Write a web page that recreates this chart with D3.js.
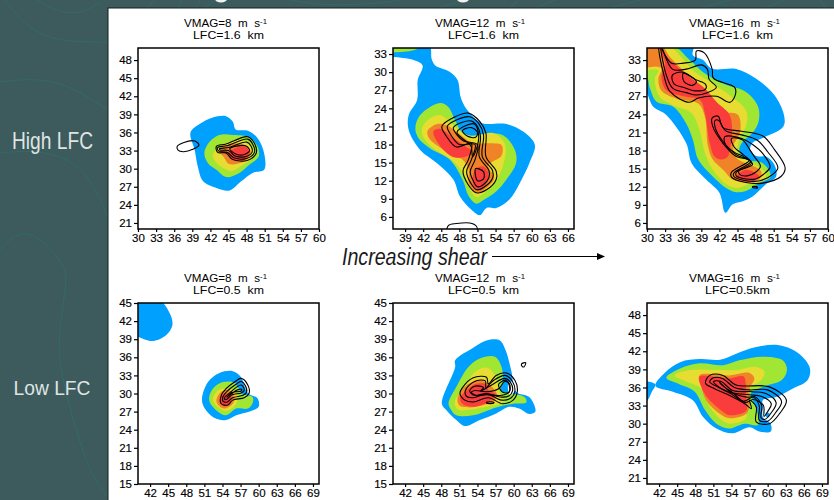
<!DOCTYPE html>
<html>
<head>
<meta charset="utf-8">
<script src="https://cdn.jsdelivr.net/npm/d3@7"></script>
<style>
html, body { margin: 0; padding: 0; background: #3d5a5c; overflow: hidden; }
svg { display: block; font-family: "Liberation Sans", Arial, sans-serif; }
.tick text { font-size: 11.5px; fill: #000; stroke: #000; stroke-width: 0.15px; font-family: "Liberation Sans", Arial, sans-serif; }
</style>
</head>
<body>
<svg id="chart" width="834" height="500"></svg>
<script>
// tick labels
var ticksX3060 = [30, 33, 36, 39, 42, 45, 48, 51, 54, 57, 60];
var ticksX3966 = [39, 42, 45, 48, 51, 54, 57, 60, 63, 66];
var ticksX4269 = [42, 45, 48, 51, 54, 57, 60, 63, 66, 69];
var ticksY2148 = [21, 24, 27, 30, 33, 36, 39, 42, 45, 48];
var ticksY633 = [6, 9, 12, 15, 18, 21, 24, 27, 30, 33];
var ticksY1545 = [15, 18, 21, 24, 27, 30, 33, 36, 39, 42, 45];

// colour levels, low to high
var levelColors = ["#00a0ff", "#a0e632", "#e6dc32", "#f08228", "#fa3c3c"];

// VMAG=8 LFC=1.6
var a1Blue = [[38.7,36],[40.2,37.4],[42.4,38.5],[44.6,38.7],[45.7,37.8],[46.2,36.5],[48.2,36.3],[49.8,35.1],[50.9,32.6],[50.9,29.8],[49,29.3],[47.1,27.9],[45.2,26.4],[43,26.8],[40.8,27.9],[39.9,30.4],[39.4,33.1]];
var a1Green = [[41,32.6],[41.9,34.5],[43.5,35.6],[45.7,35.6],[48.2,35.3],[49.8,33.7],[50,32],[48.4,30.6],[46.8,29.3],[44.6,28.6],[43,29.8],[41.6,30.9]];
var a1Yellow = [[42.4,32.2],[43.5,33.7],[45.7,34.6],[48,34.5],[49.2,33],[48.5,31.4],[47,30.4],[45.5,29.6],[44,30.2],[43,31]];
var a1Orange = [[43.5,33],[45,34],[47.5,34],[48.7,32.8],[48,31.5],[46.5,30.8],[45,30.8],[44.3,31.8]];
var a1Red = [[45.2,32.9],[47.6,33.7],[48.5,32.6],[47.9,31.6],[45.7,31.5],[44.9,32.3]];
var a1Line1 = [[43,33.7],[44.6,34.1],[48.2,35.3],[49.3,34.2],[49.6,32.6],[48.2,31.4],[45.7,31.5],[44.6,32.6],[43.2,32.7]];
var a1Line2 = [[43.2,33.5],[44.7,33.8],[48.2,34.9],[49,34.1],[49.3,32.7],[48,31.7],[45.9,31.8],[44.8,32.7],[43.4,32.9]];
var a1Line3 = [[43.5,33.3],[45,33.5],[48,34.4],[48.7,33.8],[48.9,32.7],[47.8,32],[46.1,32.1],[45,33],[43.6,33.1]];
var a1Line4 = [[45.2,33.3],[47.8,33.8],[48.5,33],[47.5,32.3],[46.3,32.4]];
var a1Line5 = [[36.5,33.7],[37.5,34.3],[39.4,34.6],[40.1,33.9],[39.1,33.2],[37.5,32.8],[36.6,33.1]];

// VMAG=12 LFC=1.6
var a2Blue = [[43,34.4],[43.4,32.2],[44,31.1],[46.5,30],[47.7,28.7],[48.2,25.9],[48.9,24.3],[50.3,22.6],[51.9,21.5],[55.8,21.4],[58.5,20.2],[60.5,18],[59.6,14.9],[58,11.6],[56.3,8.9],[54.1,7.5],[52.5,7.5],[51.4,6.3],[50,7.2],[48.1,9.4],[47,12.2],[44.3,14.9],[41.5,17.1],[39.6,20.4],[39.6,22.9],[41,25.4],[41.1,28.7],[41.9,31.1],[40.4,32],[37,32.5],[36.5,32.5],[36.5,34.4]];
var a2Green = [[40.7,20.7],[41.5,22.9],[44.8,24.9],[46.2,24.2],[47.3,22],[48.4,20.1],[49.5,19.5],[52.5,19.8],[55.3,19.5],[57.2,17.1],[57.4,14.9],[55.8,12.2],[54.1,10.2],[52,8.8],[50.8,8.2],[49.5,9.5],[48.6,12],[46.4,15.5],[43.1,17.4],[41.2,19.1]];
var a2GreenTop = [[36.5,34.4],[41.5,34.4],[40.7,33.7],[37.7,33.3],[36.5,33.4]];
var a2Yellow = [[41.8,20.7],[42.9,22.2],[44.8,22.9],[46.7,21.5],[48.6,19.9],[50.3,19.4],[53.6,19.9],[55.5,18.2],[55.5,15.5],[54.1,11.9],[52.5,10.3],[50.8,9.3],[49.8,10.5],[48.9,12.7],[47,15.2],[43.7,17.4],[42.1,19.1]];
var a2Orange = [[42.7,20.2],[44.3,21.4],[45.9,21.2],[47.7,20],[50.3,18.2],[53,18.2],[55,17.9],[55,16.2],[52.8,14.5],[53.8,12.5],[52.5,10.8],[50.8,10],[49.6,11.5],[49.5,14],[48.5,15.5],[46.5,16.5],[44.5,17.7],[43,19]];
var a2Red = [[43.7,20.2],[44.8,20.6],[47,19.1],[49.5,17.4],[50,17.1],[49.7,16.3],[47.5,15.8],[45.9,16.6],[44.3,18.5]];
var a2RedLow = [[50.6,13.8],[51.9,14.4],[52.8,13.3],[52.5,11.6],[51.4,10.5],[50.3,11.3]];
var a2Line1 = [[45.1,21],[47.3,22.6],[49.5,23.2],[51.4,21.8],[52.4,19.9],[52.4,16],[54.1,13.6],[54.1,12.2],[52.5,10.5],[50.8,10],[49.5,11.3],[48.6,13.6],[49.5,15.5],[50,18.2],[47.5,17.6],[45.9,19.3]];
var a2Line2 = [[46,21],[47.8,22.2],[49.7,22.6],[51.2,21.5],[52,19.6],[51.8,16],[53.5,13.7],[53.5,12.4],[52.2,11],[50.9,10.5],[49.9,11.6],[49.2,13.5],[50,15.5],[50.6,18],[48,18],[46.8,19.3]];
var a2Line3 = [[47,20.8],[48.5,21.7],[50,21.9],[51,21],[51.5,19.3],[51.3,16],[52.9,13.7],[52.9,12.5],[51.9,11.3],[51,11],[50.3,12],[49.8,13.5],[50.6,15.5],[51,18],[48.7,18.6],[47.6,19.6]];
var a2Line4 = [[48.5,20.3],[50,20.8],[51,20],[50.7,19.2],[49.3,19.4]];
var a2Line5 = [[50.7,14],[52,13.5],[52,12.3],[51,12]];
var a2Line6 = [[46.2,4.6],[47.5,4.9],[49.7,5],[50.8,4.5],[50.9,3.6],[46,3.6]];
var a2Line7 = [[47.6,20],[49.2,21.2],[50.5,21.4],[51.2,19.5],[50.9,17.5],[50.2,16],[49.9,17.8],[48.5,19]];

// VMAG=16 LFC=1.6
var a3Blue = [[37.6,35.4],[37.6,33.8],[39.3,33],[40.7,31.6],[44.8,31.5],[48.1,29.9],[51.1,27.2],[52.7,23.9],[52.6,22],[49.2,20.1],[47.5,19.3],[47.1,18.1],[48.1,17.1],[49.7,17],[51.1,15.7],[51.4,13.7],[49.7,12.4],[47.5,10.4],[45.9,9.6],[44.2,9.1],[43,7.7],[42,11],[39.8,13.2],[37.4,15.9],[36.5,19.2],[33.2,23.9],[31,25.3],[29.9,27.5],[29.4,27.5],[29.4,35.4]];
var a3Green = [[34.3,35.4],[37.1,33],[39.3,31],[42.6,29.1],[46.4,27.7],[48.4,25.3],[48.5,22.8],[47.5,20.9],[45.9,19.5],[45.3,18.1],[46.4,16.5],[49.2,15.9],[50.5,13.7],[48.6,12.6],[46.4,11.3],[44.8,11.1],[43.1,11.8],[40.9,13.7],[38.5,16.5],[37.6,19.8],[36.5,22.5],[34.3,25.3],[31.6,26.1],[30.5,28.3],[30,30.2],[29.4,30.2],[29.4,35.4]];
var a3Yellow = [[33.5,35.4],[35.7,33.5],[37.6,31.3],[40.9,29.1],[44,26.9],[46.4,24.7],[46.5,22.3],[45.3,19.8],[45.1,17.6],[47.5,15.9],[49.7,14.3],[49.5,13.2],[47,12.4],[44.8,11.8],[42.9,12.6],[40.9,14.8],[39.6,17.6],[38.7,21.4],[37.4,24.2],[34.3,25.5],[32.1,26.9],[31.3,29.9],[31.9,31.3],[30,31.3],[29.4,31.3],[29.4,35.4]];
var a3Orange = [[32.4,35.4],[33.8,33.5],[36.3,31],[40.4,27.2],[42.6,24.5],[45.1,23.9],[45.4,20.9],[44.3,18.7],[44.8,16.8],[48.9,14.6],[48.6,13.2],[46.4,12.7],[44.2,13.2],[42.6,14.8],[40.9,16.5],[40.1,18.7],[39.6,23.6],[38.5,25.8],[34.9,26.6],[32.4,27.9],[31.9,29.9],[32.4,31.6],[31.6,31.9],[29.4,31.9],[29.4,35.4]];
var a3Red = [[31.9,35.4],[33.8,33],[37.1,30.2],[39.6,28.3],[41.5,26.1],[43.7,23.9],[44.1,20.9],[43.7,18.1],[43.4,17],[42.3,16.5],[41.2,17],[40.4,19.2],[39.6,24.2],[38.8,26.4],[36.5,26.9],[33.2,28],[32.4,30.2],[33,32.4]];
var a3RedLow = [[46.4,14.8],[48.6,13.7],[47,12.8],[44.8,13.6]];
var a3Line1 = [[32,35.4],[34,32.5],[36,32.5],[38,33],[38.2,34.5],[39.5,34.2],[40.8,31.5],[41,30],[44.5,28.5],[44.7,27.5],[43.8,26],[41.5,27],[38.5,26.7],[37,26],[33.8,27.8],[32.8,30.5]];
var a3Line2 = [[32.3,35.4],[34.2,31.5],[36.5,31.5],[39,32.2],[40,31.5],[40.3,29.8],[41.5,28.5],[40,27.6],[38.2,27.2],[36.5,27.6],[34.3,28.3],[33.2,30.5]];
var a3Line3 = [[35.9,31],[38,29.8],[39.7,29],[39.7,28.2],[38,27.9],[36,28.5],[34.5,29],[34.2,30.5]];
var a3Line4 = [[36,30.8],[38.2,29.4],[37.5,28.8],[36.1,29.5]];
var a3Line5 = [[40.8,23.4],[41.8,23.7],[42.6,21.8],[45.7,21.2],[49.2,20.4],[51.1,18.2],[52.9,15.1],[52.2,13.7],[49.2,12.6],[46.4,12.7],[44,13.6],[44,14.4],[47,16.4],[44.8,17],[42.6,19.2],[40.9,22]];
var a3Line6 = [[41.3,23],[41.9,23],[43,21.3],[45.7,20.6],[48.3,19.7],[50,17.8],[51.7,15.2],[50.9,14.1],[48.7,13],[46.4,13],[44.4,13.7],[44.4,14.3],[47.2,16.2],[44.8,17.3],[42.6,19.5],[41.3,21.8]];
var a3Line7 = [[42.9,20.3],[45.7,20],[47.5,19],[49.2,17.5],[50.4,15.3],[49.6,14.3],[48,13.3],[46.4,13.3],[44.8,13.8],[44.8,14.4],[47.3,15.9],[46,17],[44.5,17.7],[43,19]];
var a3Line8 = [[44,20],[45.8,19.8],[47,18.2],[47.8,17],[48.8,15.4],[48,14.4],[46.6,13.8],[45.4,14],[45.2,14.6],[47.5,15.7],[46,17.3],[44.5,18.5]];
var a3Line9 = [[47.5,12.05],[48.3,11.95],[48.3,11.8],[47.5,11.9]];

// VMAG=8 LFC=0.5
var b1BlueTop = [[39.5,45.4],[43.6,45.4],[45.3,43.2],[45.7,41.3],[44.7,39.7],[42.5,38.7],[40.3,39.3],[39.5,39.7]];
var b1Blue = [[50.6,28.9],[51.6,31.9],[53.5,33.4],[55.7,33.7],[57,32.8],[58.2,30.1],[59.8,29.2],[60,27.8],[58.5,27],[56.3,26.4],[54.6,25.6],[53,25.8],[51.3,27.2]];
var b1Green = [[51.8,28.9],[52.4,30.8],[54.1,31.9],[56,31.8],[56.6,31],[57.2,30],[59,29.4],[59,28.4],[58.2,27.5],[56.3,27.5],[54.6,26.4],[53,27.2]];
var b1Yellow = [[52.4,28.9],[53.2,30.5],[54.6,30.8],[56.3,30.3],[56.3,28.3],[54.6,27.1],[53.2,27.8]];
var b1Orange = [[53,28.9],[53.8,30.3],[55.2,30.5],[56,29.4],[55.7,28.3],[54.3,27.5],[53.3,28.1]];
var b1Red = [[53.5,28.9],[54.3,30],[55.4,29.7],[55.4,28.6],[54.3,27.9]];
var b1Line1 = [[53.8,29.7],[54.6,30.8],[56,31.9],[57.1,32.5],[58.2,31.4],[58.4,30],[57.6,29.3],[55.7,28.9],[54.9,28.1],[53.8,28.3]];
var b1Line2 = [[54.1,29.5],[54.9,30.5],[56.2,31.5],[57.1,32],[57.8,31.3],[58,30.2],[57.4,29.7],[55.7,29.3],[54.8,28.6],[54.1,28.7]];
var b1Line3 = [[54.4,29.4],[55.2,30.1],[56.4,31.1],[57.1,31.4],[57.5,31],[57.6,30.5],[57.1,30.1],[55.6,29.8],[54.8,29.1],[54.4,29]];
var b1Line4 = [[54.7,29.4],[55.4,29.9],[56.5,30.6],[57.2,30.7],[57.1,30.4],[55.6,30.2],[54.9,29.6]];

// VMAG=12 LFC=0.5
var b2Blue = [[48.1,28.3],[50.3,34.4],[50.3,35.5],[53.3,37.6],[55.5,38.8],[57.7,38.8],[58.7,37.1],[59.6,33.8],[60.4,30.3],[62.6,29.4],[63.6,27],[62.6,26.6],[60.9,27.5],[59.3,27.8],[57.1,26.7],[54.4,25.6],[51.9,24.6],[50.5,25.6],[48.9,27.2]];
var b2Green = [[49.2,28.3],[50.5,31.1],[52.5,34.4],[54.4,35.8],[56.9,36.1],[58,34.4],[58.2,32],[57.8,30.5],[59.6,30],[61.8,29.4],[62.1,28.5],[59.9,28.3],[57.1,27.7],[53.3,26.4],[50.5,26.4],[49.7,27.2]];
var b2Yellow = [[50.2,28.6],[51.7,30.8],[53.6,33.6],[55.5,34.3],[56.9,33],[57.7,30],[58.2,28.6],[55.5,27.8],[52.7,27.3],[50.8,27.3]];
var b2Orange = [[50.7,29.2],[52.2,31.4],[54.4,32.2],[55.8,31.6],[57.2,30],[56.9,28.9],[55,28.1],[52.7,27.7],[51,28]];
var b2Red = [[51.1,29.2],[52.5,30.8],[53.8,31.6],[55.5,31.5],[55.8,30.6],[57,29.9],[55.8,28.6],[53.3,27.8],[51.6,28.2]];
var b2Hole = [[59.1,31.6],[59.9,32],[60.5,30.9],[59.4,29.7]];
var b2Line1 = [[51.4,30.8],[53.3,32.6],[55.5,32.7],[55.8,31.6],[57.1,33],[58.8,33.4],[60.2,32.2],[60.6,30.3],[59.9,28.9],[58.2,28.3],[55.8,29.3],[53.3,28.6],[51.9,28.9],[51.1,30]];
var b2Line2 = [[52,30.5],[53.5,32],[55.3,32.1],[55.4,31],[56.7,32.2],[58.6,33],[59.8,32],[60.2,30.4],[59.6,29.3],[58,28.9],[55.6,29.9],[53.3,29.3],[52.2,29.5]];
var b2Line3 = [[52.7,30.4],[53.5,31.2],[55,31],[54.5,30.4],[56.5,31.5],[58.5,32.5],[59.5,31.8],[59.8,30.4],[59.2,29.6],[58,29.4],[55.5,30],[53.5,29.7]];
var b2Line4 = [[53,30.2],[53.6,30.5],[55.5,30.3],[57.5,30.8],[58.5,32],[59.3,31.6],[59.3,30.3],[58,29.7],[55.5,29.8],[53.7,29.7]];
var b2Line5 = [[61.3,34.9],[62,35.1],[61.7,34.4],[61.4,34.5]];
var b2Line6 = [[55.5,28.55],[56.7,28.55],[56.7,28.4],[55.5,28.4]];
var b2Line7 = [[57.5,31.5],[58.7,32.2],[59.3,31.2],[59.2,30.2],[58.2,30.2]];

// VMAG=16 LFC=0.5
var b3BlueLeft = [[39.4,37],[40.2,37],[41.4,36.5],[40.8,35.3],[40.1,33.9],[39.4,33.6]];
var b3Blue = [[41.4,36.3],[43,38.5],[45.5,40.2],[48.8,40.7],[52.1,40.6],[54.8,41.6],[58.1,42.7],[61.9,43],[65.2,41.6],[67,39.2],[66.6,37.2],[64.1,35.8],[61.4,34.4],[59.2,33.9],[59.2,32.8],[59.2,31.1],[60.5,30],[60.5,28.7],[58.6,28.7],[57,29.4],[54.2,28.4],[51.5,29.2],[49.3,31.1],[47.6,33.9],[44.3,35.3]];
var b3BlueSpot = [[59.7,31.8],[60.3,31.7],[60.2,31.1],[59.7,31.2]];
var b3Green = [[43.2,37.6],[45.4,39.1],[48.7,40],[52.6,39.7],[55.3,40.5],[59.2,41.1],[62.5,40.5],[63.2,38.9],[62.3,37.2],[59.5,36.2],[57.2,35],[57.8,33.3],[58.4,31.4],[58.4,29.8],[56.2,30],[53.5,29.2],[51.5,30],[49.6,32.3],[47.9,35.3],[45.2,36.6]];
var b3Yellow = [[44.6,38],[47.1,38.9],[51.5,38.9],[54.8,38.9],[58.1,39.4],[59.5,38.6],[58.9,37.2],[57,35.8],[56.4,32.8],[56.4,30.9],[53.7,30],[52,30.9],[50.1,33.3],[49,35.8],[46.5,37]];
var b3Orange = [[48.7,38],[53.7,38],[57,38.4],[57.8,37.5],[57,35.8],[57,33],[56.5,31.7],[53.7,30.9],[52,31.7],[49.8,33.9],[49,36.1]];
var b3Red = [[48.7,37.8],[53.7,37.5],[56,37.8],[56.4,36.4],[56.4,33.9],[56.5,32.2],[53.7,31.4],[52.3,32.2],[50.1,34.2],[49,36.1]];
var b3Line1 = [[49.7,36.7],[50.4,38],[52.6,38],[54.8,36.4],[60.3,36.1],[63.1,33.9],[62,31.7],[60.3,30],[58.1,30.3],[58.1,32.8],[57,33.9],[57.3,32.5],[56.2,33.3],[53.2,34.9],[51.2,35.8]];
var b3Line2 = [[50.4,36.9],[51,37.6],[52.5,37.5],[54.5,36],[57,35.6],[60,35.6],[62.3,33.7],[61.3,31.8],[60,30.4],[58.6,30.6],[58.6,33],[57.6,34.4],[56.5,34.4],[53.5,35.3],[51.5,36.2]];
var b3Line3 = [[51,37],[52.3,37],[54.2,35.5],[57.5,35.3],[59.7,35],[61.4,33.5],[60.6,31.8],[59.5,30.7],[58.9,31],[59,33],[57.8,34.5],[56,33.7],[54,34.9],[52,36]];
var b3Line4 = [[52,36.9],[54,35.2],[57,34.8],[59,34.5],[60.6,33.3],[60,32],[59.4,31.2],[59.3,33],[57.6,34],[56.3,33.5],[54,35.3],[52.5,36.3]];

var panels = [
  { left: 138, top: 48, xDomain: [30, 60], yDomain: [20, 50], xTicks: ticksX3060, yTicks: ticksY2148,
    vmag: "8", lfc: "LFC=1.6 km", titleX: [184, 193], titleW: [83, 71],
    fills: [[a1Blue, 0], [a1Green, 1], [a1Yellow, 2], [a1Orange, 3], [a1Red, 4]],
    lines: [a1Line1, a1Line2, a1Line3, a1Line4, a1Line5] },
  { left: 393, top: 48, xDomain: [37, 67], yDomain: [4, 34], xTicks: ticksX3966, yTicks: ticksY633,
    vmag: "12", lfc: "LFC=1.6 km", titleX: [435, 448], titleW: [90, 71],
    fills: [[a2Blue, 0], [a2Green, 1], [a2GreenTop, 1], [a2Yellow, 2], [a2Orange, 3], [a2Red, 4], [a2RedLow, 4]],
    lines: [a2Line1, a2Line2, a2Line3, a2Line4, a2Line5, a2Line6, a2Line7] },
  { left: 647, top: 48, xDomain: [30, 60], yDomain: [5, 35], xTicks: ticksX3060, yTicks: ticksY633,
    vmag: "16", lfc: "LFC=1.6 km", titleX: [689, 702], titleW: [91, 71],
    fills: [[a3Blue, 0], [a3Green, 1], [a3Yellow, 2], [a3Orange, 3], [a3Red, 4], [a3RedLow, 4]],
    lines: [a3Line1, a3Line2, a3Line3, a3Line4, a3Line5, a3Line6, a3Line7, a3Line8, a3Line9] },
  { left: 138, top: 303, xDomain: [40, 70], yDomain: [15, 45], xTicks: ticksX4269, yTicks: ticksY1545,
    vmag: "8", lfc: "LFC=0.5 km", titleX: [184, 193], titleW: [83, 71],
    fills: [[b1BlueTop, 0], [b1Blue, 0], [b1Green, 1], [b1Yellow, 2], [b1Orange, 3], [b1Red, 4]],
    lines: [b1Line1, b1Line2, b1Line3, b1Line4] },
  { left: 393, top: 303, xDomain: [40, 70], yDomain: [15, 45], xTicks: ticksX4269, yTicks: ticksY1545,
    vmag: "12", lfc: "LFC=0.5 km", titleX: [435, 448], titleW: [90, 71],
    fills: [[b2Blue, 0], [b2Green, 1], [b2Yellow, 2], [b2Orange, 3], [b2Red, 4], [b2Hole, -1]],
    lines: [b2Line1, b2Line2, b2Line3, b2Line4, b2Line5, b2Line6, b2Line7] },
  { left: 647, top: 303, xDomain: [40, 70], yDomain: [20, 50], xTicks: ticksX4269, yTicks: ticksY2148,
    vmag: "16", lfc: "LFC=0.5km", titleX: [689, 705], titleW: [91, 65],
    fills: [[b3BlueLeft, 0], [b3Blue, 0], [b3BlueSpot, 0], [b3Green, 1], [b3Yellow, 2], [b3Orange, 3], [b3Red, 4]],
    lines: [b3Line1, b3Line2, b3Line3, b3Line4] }
];

var size = 181;
var svg = d3.select("#chart");

// slide background with its faint contour lines
var bgLines = [
  [[5,0],[20,20],[40,35],[67,42],[108,42]],
  [[37,0],[57,12],[80,14],[100,3],[103,0]],
  [[0,82],[37,78],[67,85],[93,100],[108,110]],
  [[0,153],[33,150],[67,157],[90,177],[108,217]],
  [[0,250],[13,235],[30,232],[50,247],[65,267],[67,283],[58,333],[60,373],[77,433],[90,473],[108,498]],
  [[147,8],[155,0]], [[178,8],[182,0]], [[196,8],[200,0]], [[205,8],[215,0]],
  [[290,0],[325,6],[375,4],[400,0]], [[440,8],[462,0]], [[510,8],[518,0]], [[535,8],[555,0]],
  [[610,8],[640,0]], [[700,8],[730,0]], [[765,8],[785,0]], [[820,0],[826,8]]
];
var bgPath = d3.line().curve(d3.curveBasis);
svg.selectAll("path.bg").data(bgLines).enter().append("path")
  .attr("class", "bg")
  .attr("d", bgPath)
  .attr("fill", "none")
  .attr("stroke", "#2f6f6c")
  .attr("stroke-width", 0.8);

svg.append("ellipse").attr("cx", 221).attr("cy", -1).attr("rx", 6).attr("ry", 3.5).attr("fill", "#f2f2f2");
svg.append("ellipse").attr("cx", 463).attr("cy", -1).attr("rx", 6).attr("ry", 3.5).attr("fill", "#f2f2f2");

svg.append("rect")
  .attr("x", 108).attr("y", 8)
  .attr("width", 730).attr("height", 500)
  .attr("fill", "#fff")
  .attr("stroke", "#10201f")
  .attr("stroke-width", 1);

panels.forEach(function(p, i) {
  var x = d3.scaleLinear().domain(p.xDomain).range([p.left, p.left + size]);
  var y = d3.scaleLinear().domain(p.yDomain).range([p.top + size, p.top]);
  var shape = d3.line()
    .x(function(d) { return x(d[0]); })
    .y(function(d) { return y(d[1]); })
    .curve(d3.curveCatmullRomClosed.alpha(0.5));

  svg.append("clipPath").attr("id", "clip" + i)
    .append("rect")
    .attr("x", p.left).attr("y", p.top)
    .attr("width", size).attr("height", size);

  var plot = svg.append("g").attr("clip-path", "url(#clip" + i + ")");

  plot.selectAll("path.fill").data(p.fills).enter().append("path")
    .attr("class", "fill")
    .attr("d", function(d) { return shape(d[0]); })
    .attr("fill", function(d) { return d[1] < 0 ? "#fff" : levelColors[d[1]]; });

  plot.selectAll("path.line").data(p.lines).enter().append("path")
    .attr("class", "line")
    .attr("d", shape)
    .attr("fill", "none")
    .attr("stroke", "#000")
    .attr("stroke-width", 1.1);

  // frame
  svg.append("rect")
    .attr("x", p.left).attr("y", p.top)
    .attr("width", size).attr("height", size)
    .attr("fill", "none")
    .attr("stroke", "#000")
    .attr("stroke-width", 1.5);

  var xAxis = svg.append("g")
    .attr("transform", "translate(0," + (p.top + size) + ")")
    .call(d3.axisBottom(x).tickValues(p.xTicks).tickSize(3).tickPadding(2).tickSizeOuter(0));
  var yAxis = svg.append("g")
    .attr("transform", "translate(" + p.left + ",0)")
    .call(d3.axisLeft(y).tickValues(p.yTicks).tickSize(4).tickPadding(2).tickSizeOuter(0));
  xAxis.select(".domain").remove();
  yAxis.select(".domain").remove();
  xAxis.selectAll("line").attr("stroke-width", 1.2);
  yAxis.selectAll("line").attr("stroke-width", 1.2);

  var title = svg.append("text")
    .attr("x", p.titleX[0]).attr("y", p.top - 21.5)
    .attr("font-size", 10.5)
    .attr("word-spacing", 3)
    .attr("textLength", p.titleW[0])
    .attr("lengthAdjust", "spacingAndGlyphs");
  title.append("tspan").text("VMAG=" + p.vmag + " m s");
  title.append("tspan").attr("dy", -3).attr("font-size", 7).text("-1");
  svg.append("text")
    .attr("x", p.titleX[1]).attr("y", p.top - 9)
    .attr("font-size", 10.5)
    .attr("word-spacing", 3)
    .attr("textLength", p.titleW[1])
    .attr("lengthAdjust", "spacingAndGlyphs")
    .text(p.lfc);
});

// row labels and the shear arrow
svg.append("text").attr("x", 12).attr("y", 148.5)
  .attr("font-size", 24).attr("fill", "#dfe5e4")
  .attr("textLength", 81).attr("lengthAdjust", "spacingAndGlyphs")
  .text("High LFC");
svg.append("text").attr("x", 13.5).attr("y", 395)
  .attr("font-size", 21).attr("fill", "#dfe5e4")
  .attr("textLength", 77).attr("lengthAdjust", "spacingAndGlyphs")
  .text("Low LFC");
svg.append("text").attr("x", 342).attr("y", 264.5)
  .attr("font-size", 23).attr("font-style", "italic").attr("fill", "#1a1a1a")
  .attr("textLength", 145).attr("lengthAdjust", "spacingAndGlyphs")
  .text("Increasing shear");
svg.append("line")
  .attr("x1", 492).attr("x2", 598).attr("y1", 256.5).attr("y2", 256.5)
  .attr("stroke", "#000").attr("stroke-width", 1);
svg.append("path").attr("d", "M597,253L605,256.5L597,260Z").attr("fill", "#000");
</script>
</body>
</html>
